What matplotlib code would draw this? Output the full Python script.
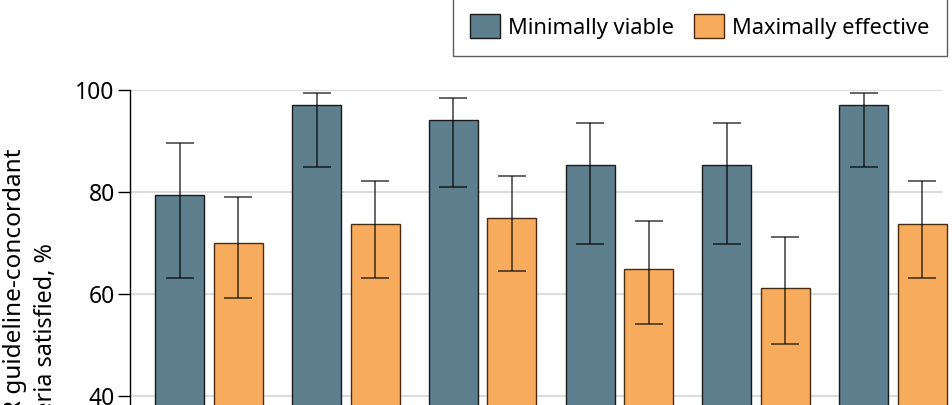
import numpy as np
import matplotlib
matplotlib.use("Agg")
import matplotlib.pyplot as plt

# values (percent of criteria satisfied)
groups = ["1", "2", "3", "4", "5", "6"]
minimal = [79.4, 97.1, 94.1, 85.3, 85.3, 97.1]
minimal_lo = [63.1, 85.0, 80.9, 69.9, 69.9, 85.0]
minimal_hi = [89.7, 99.5, 98.4, 93.5, 93.5, 99.5]
maximal = [70.0, 73.7, 75.0, 64.9, 61.2, 73.7]
maximal_lo = [59.2, 63.1, 64.5, 54.1, 50.2, 63.1]
maximal_hi = [79.0, 82.1, 83.1, 74.4, 71.2, 82.1]

slate = "#5e7f8e"
orange = "#f7ac5d"
ecol = (0, 0, 0, 0.65)

plt.rcParams["font.family"] = ["Noto Sans", "DejaVu Sans"]

W, H = 953, 405
fig = plt.figure(figsize=(W / 100, H / 100), dpi=100)

# axes: 0..100 in data, 40 at 9 px from bottom, 100 at 315 px from bottom
px_per = 5.1
y0 = 9 - 40 * px_per
ax = fig.add_axes([130 / W, y0 / H, (942 - 130) / W, 100 * px_per / H])

pitch = 136.8
x = np.arange(len(groups))
bw = 49 / pitch
off = 58.5 / pitch
e1 = [np.array(minimal) - np.array(minimal_lo), np.array(minimal_hi) - np.array(minimal)]
e2 = [np.array(maximal) - np.array(maximal_lo), np.array(maximal_hi) - np.array(maximal)]

b1 = ax.bar(x - off / 2, minimal, bw, color=slate, edgecolor="#1a1a1a", linewidth=1.0,
            label="Minimally viable", clip_on=False, zorder=2)
b2 = ax.bar(x + off / 2, maximal, bw, color=orange, edgecolor="#4a2a10", linewidth=1.0,
            label="Maximally effective", clip_on=False, zorder=2)
ax.errorbar(x - off / 2, minimal, yerr=e1, fmt="none", ecolor=ecol, elinewidth=1.3,
            capsize=10, capthick=1.3, zorder=3, clip_on=False)
ax.errorbar(x + off / 2, maximal, yerr=e2, fmt="none", ecolor=ecol, elinewidth=1.3,
            capsize=10, capthick=1.3, zorder=3, clip_on=False)

# first pair centred at 209 px
left = -(209 - 130) / pitch
ax.set_xlim(left, left + (942 - 130) / pitch)
ax.set_ylim(0, 100)
ax.set_yticks([0, 20, 40, 60, 80, 100])
ax.tick_params(axis="y", labelsize=16.5, length=9, width=1, pad=2)
ax.set_xticks([])
ax.yaxis.grid(True, color="#dcdcdc", linewidth=1.5, zorder=0)
ax.set_axisbelow(True)
for s in ["top", "right", "bottom"]:
    ax.spines[s].set_visible(False)
ax.spines["left"].set_linewidth(1.0)

# y label (two lines, cut off at left/bottom in the picture)
fig.text(15 / W, 1 - 148 / H, "ACR guideline-concordant", rotation=90,
         ha="center", va="top", fontsize=17.5)
fig.text(46 / W, 1 - 243 / H, "criteria satisfied, %", rotation=90,
         ha="center", va="top", fontsize=16.8)

leg = fig.legend(handles=[b1, b2], loc="lower right", ncol=2,
                 bbox_to_anchor=(947 / W, 1 - 56 / H), borderaxespad=0,
                 fontsize=15.7, handlelength=1.38, handleheight=1.33,
                 handletextpad=0.37, columnspacing=0.9, borderpad=0.8,
                 frameon=True, fancybox=False, edgecolor="#333333")
leg.get_frame().set_linewidth(1.0)

fig.savefig("out.png", dpi=100)
